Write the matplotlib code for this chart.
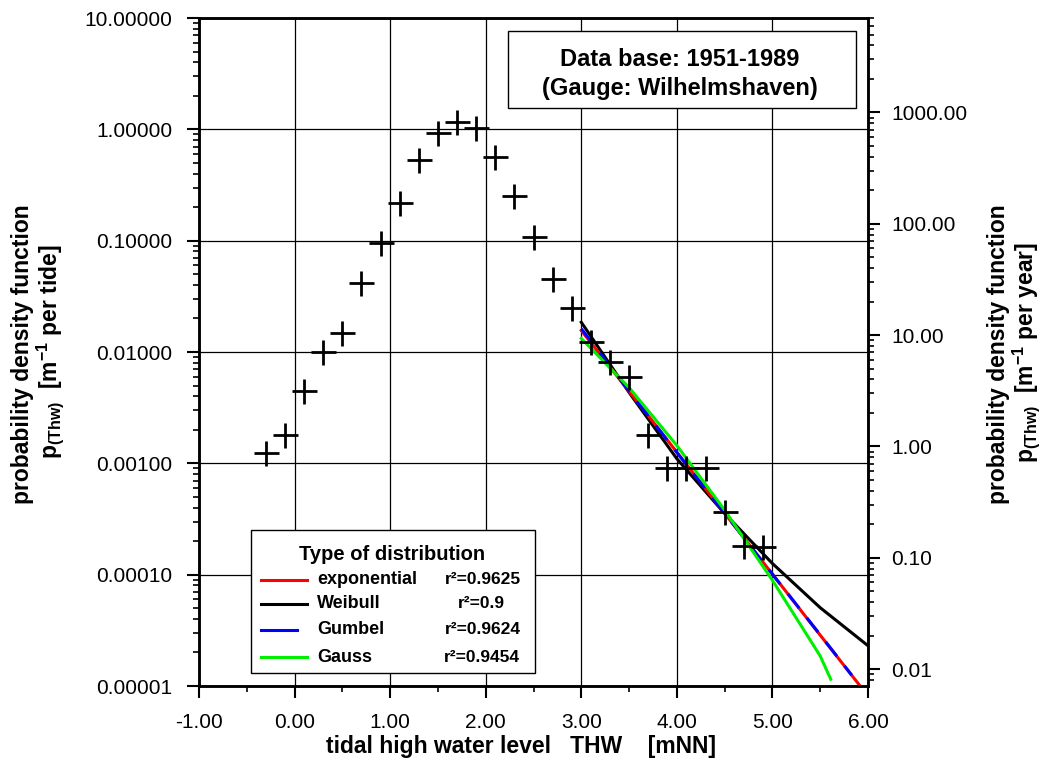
import numpy as np
import matplotlib.pyplot as plt
from matplotlib.ticker import FixedLocator, FormatStrFormatter, LogLocator, NullFormatter
from matplotlib.patches import Rectangle
from matplotlib.lines import Line2D

plt.rcParams['font.family'] = ['Liberation Sans', 'DejaVu Sans']
plt.rcParams['mathtext.fontset'] = 'custom'
plt.rcParams['mathtext.rm'] = 'Liberation Sans:bold'
plt.rcParams['mathtext.it'] = 'Liberation Sans:bold'
plt.rcParams['mathtext.bf'] = 'Liberation Sans:bold'

# observed density of tidal high water (per tide)
thw = [-0.3, -0.1, 0.1, 0.3, 0.5, 0.7, 0.9, 1.1, 1.3, 1.5, 1.7, 1.9, 2.1, 2.3,
       2.5, 2.7, 2.9, 3.1, 3.3, 3.5, 3.7, 3.9, 4.1, 4.3, 4.5, 4.7, 4.9]
pdf = [0.00125, 0.00178, 0.00442, 0.0101, 0.0147, 0.0414, 0.0948, 0.217, 0.528,
       0.925, 1.16, 1.02, 0.562, 0.251, 0.107, 0.045, 0.0247, 0.0122, 0.00805,
       0.00591, 0.00178, 0.00091, 0.00091, 0.00091, 0.000369, 0.000182, 0.000178]

# fitted distributions
exp_x = [3.0, 3.5, 4.0, 4.5, 5.0, 5.5, 5.91]
exp_y = [0.0156, 0.00443, 0.00126, 0.000356, 0.000101, 2.86e-5, 1.02e-5]
wei_x = [3.0, 3.5, 4.0, 4.5, 5.0, 5.5, 6.0]
wei_y = [0.0185, 0.00433, 0.0011, 0.000354, 0.000126, 5.05e-5, 2.3e-5]
gum_x = [3.0, 3.5, 4.0, 4.5, 5.0, 5.5, 5.83]
gum_y = [0.0162, 0.00445, 0.00125, 0.000356, 0.000101, 2.88e-5, 1.25e-5]
gau_x = [3.0, 3.5, 4.0, 4.5, 5.0, 5.5, 5.61]
gau_y = [0.01325, 0.00479, 0.001445, 0.00038, 8.9e-5, 1.86e-5, 1.15e-5]

dist_names = ['exponential', 'Weibull', 'Gumbel', 'Gauss']
dist_r2 = ['r²=0.9625', 'r²=0.9', 'r²=0.9624', 'r²=0.9454']
dist_colors = ['red', 'black', 'blue', '#00ee00']

tides_per_year = 705.0

fig = plt.figure(figsize=(10.4, 7.63), dpi=100)
ax = fig.add_axes([199/1040, 1 - 686/763, 669/1040, 668/763])

ax.set_yscale('log')
ax.set_xlim(-1, 6)
ax.set_ylim(1e-5, 10)

ax.grid(True, which='major', color='black', linewidth=0.9)
ax.set_axisbelow(True)

ax.plot(wei_x, wei_y, color='black', lw=2.2, zorder=3)
ax.plot(exp_x, exp_y, color='red', lw=2.2, zorder=3)
ax.plot(gum_x, gum_y, color='blue', lw=2.2, ls=(0, (6, 4)), zorder=3)
ax.plot(gau_x, gau_y, color='#00ee00', lw=2.2, zorder=3)
ax.plot(thw, pdf, ls='none', marker='+', ms=18, mew=2.0, color='black', zorder=4)

# axes styling
for s in ax.spines.values():
    s.set_linewidth(1.8)
ax.xaxis.set_major_locator(FixedLocator(np.arange(-1, 7, 1)))
ax.xaxis.set_minor_locator(FixedLocator(np.arange(-0.5, 6, 1)))
ax.xaxis.set_major_formatter(FormatStrFormatter('%.2f'))
ax.yaxis.set_major_locator(LogLocator(base=10, numticks=20))
ax.yaxis.set_minor_locator(LogLocator(base=10, subs=np.arange(2, 10), numticks=20))
ax.yaxis.set_major_formatter(FormatStrFormatter('%.5f'))
ax.yaxis.set_minor_formatter(NullFormatter())
ax.tick_params(which='major', direction='out', length=8.5, width=1.5, labelsize=15)
ax.tick_params(which='minor', direction='out', length=4.5, width=1.2)
ax.tick_params(axis='x', which='major', pad=11)
ax.tick_params(axis='y', which='major', pad=10.5)

ax2 = ax.twinx()
ax2.set_yscale('log')
ax2.set_ylim(1e-5 * tides_per_year, 10 * tides_per_year)
ax2.yaxis.set_major_locator(LogLocator(base=10, numticks=20))
ax2.yaxis.set_minor_locator(LogLocator(base=10, subs=np.arange(2, 10), numticks=20))
ax2.yaxis.set_major_formatter(FormatStrFormatter('%.2f'))
ax2.yaxis.set_minor_formatter(NullFormatter())
ax2.tick_params(which='major', direction='out', length=8.5, width=1.5, labelsize=15, pad=8.5)
ax2.tick_params(which='minor', direction='out', length=4.5, width=1.2)
for s in ax2.spines.values():
    s.set_linewidth(1.8)

# axis labels
fig.text(521/1040, 1 - 747/763, 'tidal high water level   THW    [mNN]',
         ha='center', va='center', fontsize=16.5, fontweight='bold')
fig.text(23/1040, 1 - 354/763, 'probability density function', rotation=90,
         ha='center', va='center', fontsize=16.5, fontweight='bold')
fig.text(50/1040, 1 - 352/763, r'p$_{(Thw)}$  [m$^{-1}$ per tide]', rotation=90,
         ha='center', va='center', fontsize=16.5, fontweight='bold')
fig.text(998/1040, 1 - 354/763, 'probability density function', rotation=90,
         ha='center', va='center', fontsize=16.5, fontweight='bold')
fig.text(1026/1040, 1 - 352/763, r'p$_{(Thw)}$  [m$^{-1}$ per year]', rotation=90,
         ha='center', va='center', fontsize=16.5, fontweight='bold')

# data base box
fig.patches.append(Rectangle((508/1040, 1 - 108/763), 348/1040, 77/763,
                             transform=fig.transFigure, facecolor='white',
                             edgecolor='black', lw=1.0, zorder=5))
fig.text(680/1040, 1 - 60/763, 'Data base: 1951-1989', ha='center', va='center',
         fontsize=17, fontweight='bold', zorder=6)
fig.text(680/1040, 1 - 88/763, '(Gauge: Wilhelmshaven)', ha='center', va='center',
         fontsize=17, fontweight='bold', zorder=6)

# legend box
fig.patches.append(Rectangle((251/1040, 1 - 673/763), 284/1040, 143/763,
                             transform=fig.transFigure, facecolor='white',
                             edgecolor='black', lw=1.0, zorder=5))
fig.text(392/1040, 1 - 554/763, 'Type of distribution', ha='center', va='center',
         fontsize=14.5, fontweight='bold', zorder=6)
row_y = [580, 604, 630, 657]
r2_x = [521, 505, 521, 520]
for name, r2, col, ry, rx in zip(dist_names, dist_r2, dist_colors, row_y, r2_x):
    x_end = 297 if name == 'Gumbel' else 307
    fig.lines.append(Line2D([261/1040, x_end/1040], [1 - ry/763, 1 - ry/763],
                            transform=fig.transFigure, color=col, lw=2.2, zorder=6))
    fig.text(317/1040, 1 - ry/763, name, ha='left', va='center',
             fontsize=13, fontweight='bold', zorder=6)
    fig.text(rx/1040, 1 - ry/763, r2, ha='right', va='center',
             fontsize=12.5, fontweight='bold', zorder=6)

fig.savefig('out.png', dpi=100)
